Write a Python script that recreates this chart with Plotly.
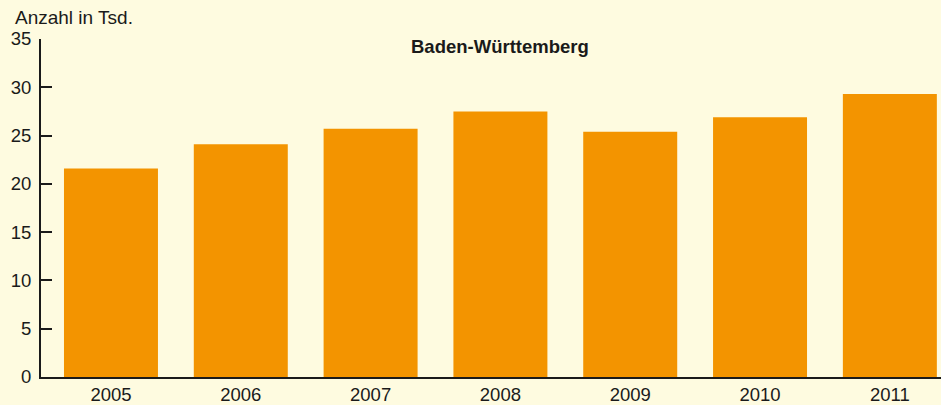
import plotly.graph_objects as go

years = ["2005", "2006", "2007", "2008", "2009", "2010", "2011"]
values = [21.6, 24.1, 25.7, 27.5, 25.4, 26.9, 29.3]
y_ticks = [0, 5, 10, 15, 20, 25, 30, 35]

bg = "#FEFBE0"
bar_color = "#F39400"
ink = "#1a1a1a"

fig = go.Figure(
    go.Bar(x=list(range(len(years))), y=values, marker_color=bar_color,
           marker_line_width=0, width=0.724)
)

fig.update_layout(
    width=941, height=405,
    margin=dict(l=41, r=0, t=39, b=25),
    paper_bgcolor=bg, plot_bgcolor=bg,
    showlegend=False,
    font=dict(family="Liberation Sans, Arial, sans-serif", size=19, color=ink),
    annotations=[
        dict(text="Anzahl in Tsd.", xref="paper", yref="paper", x=(13 - 41) / 900, y=1,
             xanchor="left", yanchor="middle", yshift=22, showarrow=False,
             font=dict(size=19, color=ink)),
        dict(text="<b>Baden-Württemberg</b>", xref="paper", yref="paper",
             x=(500 - 41) / 900, y=(379 - 47) / 340, xanchor="center", yanchor="middle",
             showarrow=False, font=dict(size=18.5, color=ink)),
    ],
)

fig.update_xaxes(
    range=[-0.539, 6.394],
    tickmode="array", tickvals=list(range(len(years))), ticktext=years,
    showline=True, linecolor=ink, linewidth=2,
    ticks="", showgrid=False, zeroline=False,
    tickfont=dict(size=18.5, color=ink),
)
fig.update_yaxes(
    range=[0, 35], tickmode="array", tickvals=y_ticks,
    showline=True, linecolor=ink, linewidth=2,
    ticks="inside", ticklen=11, tickwidth=2, tickcolor=ink,
    showgrid=False, zeroline=False, ticklabelstandoff=4,
    tickfont=dict(size=18.5, color=ink),
)

fig.write_html("out.html")
